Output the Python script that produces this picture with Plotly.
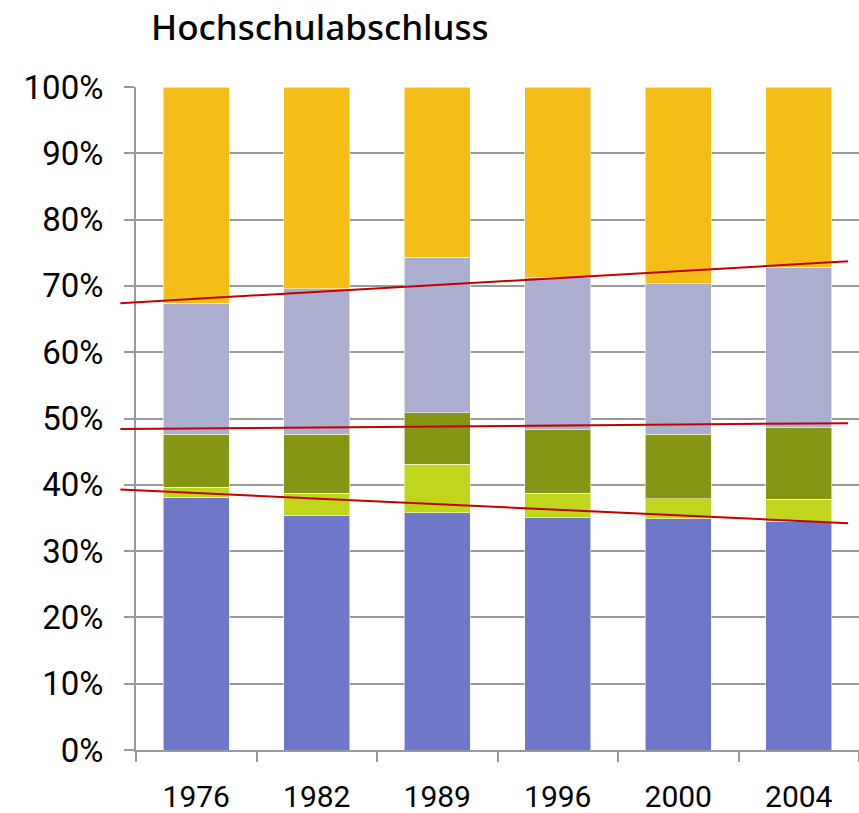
import plotly.graph_objects as go

years = ["1976", "1982", "1989", "1996", "2000", "2004"]
seg_blue = [38.1, 35.4, 35.8, 35.0, 34.9, 34.4]
seg_lime = [1.5, 3.3, 7.3, 3.7, 3.0, 3.4]
seg_olive = [8.0, 8.9, 7.8, 9.6, 9.7, 10.8]
seg_lavender = [19.8, 22.0, 23.4, 22.9, 22.7, 24.2]
seg_yellow = [32.6, 30.4, 25.7, 28.8, 29.7, 27.2]

# trend lines: category-position endpoints and values (%)
trend_x = [-0.63, 5.41]
trend_upper = [67.4, 73.7]
trend_middle = [48.4, 49.3]
trend_lower = [39.3, 34.2]

series = [
    (seg_blue, "#6f78c8"),
    (seg_lime, "#bfd61c"),
    (seg_olive, "#879514"),
    (seg_lavender, "#abaecf"),
    (seg_yellow, "#f5bd18"),
]

fig = go.Figure()
for vals, col in series:
    fig.add_trace(go.Bar(
        x=years, y=vals, marker_color=col,
        marker_line=dict(color="rgba(255,255,255,0.55)", width=1),
        width=0.55, showlegend=False,
    ))

ncat = len(years)
def to_paper(c):
    return (c + 0.5) / ncat

for tv in (trend_upper, trend_middle, trend_lower):
    fig.add_shape(type="line", xref="paper", yref="y",
                  x0=to_paper(trend_x[0]), x1=to_paper(trend_x[1]),
                  y0=tv[0], y1=tv[1],
                  line=dict(color="#c00000", width=2), layer="above")

font_family = "Roboto, 'Open Sans', sans-serif"
fig.update_layout(
    width=859, height=813,
    barmode="stack",
    bargap=0.45,
    plot_bgcolor="white", paper_bgcolor="white",
    margin=dict(l=136, r=0, t=87, b=63, autoexpand=False),
    title=dict(text="Hochschulabschluss", xref="container", yref="container",
               x=151/859, xanchor="left", y=1 - 28/813, yanchor="middle",
               automargin=False,
               font=dict(family="'Noto Sans', sans-serif", size=35, color="black", weight=500)),
    font=dict(family=font_family, color="black"),
)
fig.update_xaxes(
    range=[-0.5, 5.5], tickson="boundaries", ticks="outside", ticklen=10,
    tickcolor="#999999", tickwidth=2, showline=True, linecolor="#999999", linewidth=2,
    showgrid=False, tickfont=dict(size=30, family=font_family, color="black"),
    ticklabelstandoff=19, automargin=False,
)
fig.update_yaxes(
    range=[0, 100], dtick=10, ticksuffix="%", ticks="outside", ticklen=10,
    tickcolor="#999999", tickwidth=2, showline=True, linecolor="#999999", linewidth=2,
    showgrid=True, gridcolor="#999999", gridwidth=2, zeroline=False,
    tickfont=dict(size=33, family=font_family, color="black"),
    ticklabelstandoff=14, automargin=False,
)

fig.write_html("out.html", config={"displayModeBar": False},
               post_script="document.body.style.margin='0';")
